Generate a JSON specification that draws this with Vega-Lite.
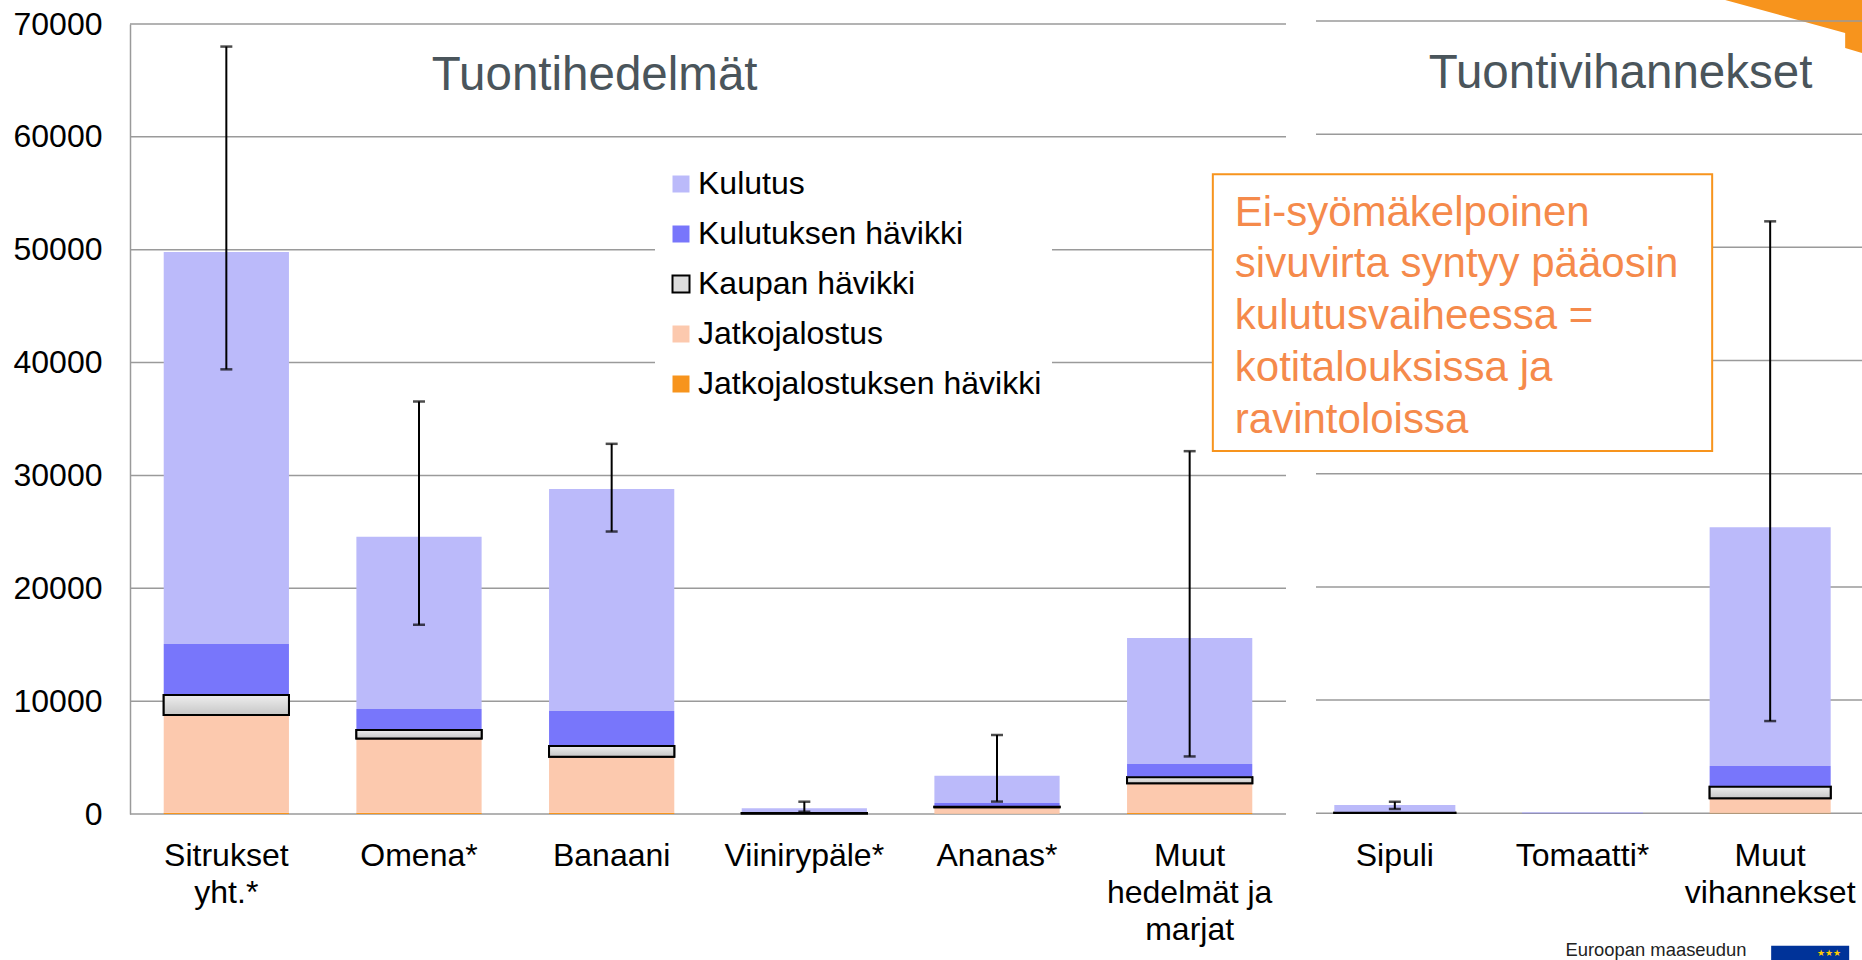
{
  "$schema": "https://vega.github.io/schema/vega-lite/v6.json",
  "padding": {"left": 13, "top": 0, "right": 0, "bottom": 0},
  "background": "white",
  "spacing": 30,
  "bounds": "flush",
  "config": {"view": {"stroke": null}, "font": "Liberation Sans", "axis": {"grid": false}},
  "datasets": {
    "food": [
      {"group":"H","tuote":"Sitrukset yht.*","osa":"Jatkojalostuksen hävikki","arvo":120,"j":0},
      {"group":"H","tuote":"Sitrukset yht.*","osa":"Jatkojalostus","arvo":8650,"j":1},
      {"group":"H","tuote":"Sitrukset yht.*","osa":"Kaupan hävikki","arvo":1770,"j":2},
      {"group":"H","tuote":"Sitrukset yht.*","osa":"Kulutuksen hävikki","arvo":4520,"j":3},
      {"group":"H","tuote":"Sitrukset yht.*","osa":"Kulutus","arvo":34740,"j":4},
      {"group":"H","tuote":"Omena*","osa":"Jatkojalostuksen hävikki","arvo":120,"j":0},
      {"group":"H","tuote":"Omena*","osa":"Jatkojalostus","arvo":6580,"j":1},
      {"group":"H","tuote":"Omena*","osa":"Kaupan hävikki","arvo":740,"j":2},
      {"group":"H","tuote":"Omena*","osa":"Kulutuksen hävikki","arvo":1860,"j":3},
      {"group":"H","tuote":"Omena*","osa":"Kulutus","arvo":15260,"j":4},
      {"group":"H","tuote":"Banaani","osa":"Jatkojalostuksen hävikki","arvo":100,"j":0},
      {"group":"H","tuote":"Banaani","osa":"Jatkojalostus","arvo":4980,"j":1},
      {"group":"H","tuote":"Banaani","osa":"Kaupan hävikki","arvo":940,"j":2},
      {"group":"H","tuote":"Banaani","osa":"Kulutuksen hävikki","arvo":3100,"j":3},
      {"group":"H","tuote":"Banaani","osa":"Kulutus","arvo":19680,"j":4},
      {"group":"H","tuote":"Viinirypäle*","osa":"Jatkojalostus","arvo":40,"j":1},
      {"group":"H","tuote":"Viinirypäle*","osa":"Kaupan hävikki","arvo":50,"j":2},
      {"group":"H","tuote":"Viinirypäle*","osa":"Kulutuksen hävikki","arvo":60,"j":3},
      {"group":"H","tuote":"Viinirypäle*","osa":"Kulutus","arvo":360,"j":4},
      {"group":"H","tuote":"Ananas*","osa":"Jatkojalostuksen hävikki","arvo":20,"j":0},
      {"group":"H","tuote":"Ananas*","osa":"Jatkojalostus","arvo":570,"j":1},
      {"group":"H","tuote":"Ananas*","osa":"Kaupan hävikki","arvo":60,"j":2},
      {"group":"H","tuote":"Ananas*","osa":"Kulutuksen hävikki","arvo":320,"j":3},
      {"group":"H","tuote":"Ananas*","osa":"Kulutus","arvo":2420,"j":4},
      {"group":"H","tuote":"Muut hedelmät ja marjat","osa":"Jatkojalostuksen hävikki","arvo":80,"j":0},
      {"group":"H","tuote":"Muut hedelmät ja marjat","osa":"Jatkojalostus","arvo":2640,"j":1},
      {"group":"H","tuote":"Muut hedelmät ja marjat","osa":"Kaupan hävikki","arvo":530,"j":2},
      {"group":"H","tuote":"Muut hedelmät ja marjat","osa":"Kulutuksen hävikki","arvo":1180,"j":3},
      {"group":"H","tuote":"Muut hedelmät ja marjat","osa":"Kulutus","arvo":11160,"j":4},
      {"group":"V","tuote":"Sipuli","osa":"Jatkojalostus","arvo":20,"j":1},
      {"group":"V","tuote":"Sipuli","osa":"Kaupan hävikki","arvo":30,"j":2},
      {"group":"V","tuote":"Sipuli","osa":"Kulutuksen hävikki","arvo":40,"j":3},
      {"group":"V","tuote":"Sipuli","osa":"Kulutus","arvo":640,"j":4},
      {"group":"V","tuote":"Tomaatti*","osa":"Jatkojalostus","arvo":10,"j":1},
      {"group":"V","tuote":"Tomaatti*","osa":"Kulutuksen hävikki","arvo":10,"j":3},
      {"group":"V","tuote":"Tomaatti*","osa":"Kulutus","arvo":70,"j":4},
      {"group":"V","tuote":"Muut vihannekset","osa":"Jatkojalostuksen hävikki","arvo":50,"j":0},
      {"group":"V","tuote":"Muut vihannekset","osa":"Jatkojalostus","arvo":1275,"j":1},
      {"group":"V","tuote":"Muut vihannekset","osa":"Kaupan hävikki","arvo":1025,"j":2},
      {"group":"V","tuote":"Muut vihannekset","osa":"Kulutuksen hävikki","arvo":1830,"j":3},
      {"group":"V","tuote":"Muut vihannekset","osa":"Kulutus","arvo":21090,"j":4}
    ],
    "err": [
      {"group":"H","tuote":"Sitrukset yht.*","ala":39400,"yla":68000},
      {"group":"H","tuote":"Omena*","ala":16770,"yla":36550},
      {"group":"H","tuote":"Banaani","ala":25030,"yla":32800},
      {"group":"H","tuote":"Viinirypäle*","ala":200,"yla":1090},
      {"group":"H","tuote":"Ananas*","ala":1100,"yla":7000},
      {"group":"H","tuote":"Muut hedelmät ja marjat","ala":5100,"yla":32150},
      {"group":"V","tuote":"Sipuli","ala":380,"yla":1020},
      {"group":"V","tuote":"Muut vihannekset","ala":8150,"yla":52300}
    ],
    "grid": [{"v":0},{"v":10000},{"v":20000},{"v":30000},{"v":40000},{"v":50000},{"v":60000},{"v":70000}]
  },
  "hconcat": [
    {
      "width": 1156, "height": 790,
      "encoding": {"x":{"field":"tuote","type":"nominal","scale":{"domain":["Sitrukset yht.*","Omena*","Banaani","Viinirypäle*","Ananas*","Muut hedelmät ja marjat"],"paddingInner":0.35,"paddingOuter":0.175},"axis":{"title":null,"labelAngle":0,"labelFontSize":32,"labelColor":"#000","ticks":false,"domain":false,"labelPadding":26,"labelLimit":0,"labelExpr":"datum.label==='Sitrukset yht.*'?['Sitrukset','yht.*']:datum.label==='Muut hedelmät ja marjat'?['Muut','hedelmät ja','marjat']:datum.label","labelLineHeight":37,"labelBaseline":"top"}}},
      "layer": [
        {"data":{"name":"grid"},"mark":{"type":"rule","color":"#9a9a9a","strokeWidth":1.5},"encoding":{"x":{"value":0},"x2":{"value":1156},"y":{"field":"v","type":"quantitative","scale":{"domain":[0,70000]},"axis":{"title":null,"values":[0,10000,20000,30000,40000,50000,60000,70000],"format":"d","labelFontSize":32,"labelColor":"#000","labelPadding":28,"ticks":false,"domain":true,"domainColor":"#9a9a9a","domainWidth":1.5,"grid":false}}}},
        {
          "data":{"name":"food"},
          "transform":[{"filter":"datum.group==='H'"},{"stack":"arvo","groupby":["tuote"],"sort":[{"field":"j","order":"ascending"}],"as":["a0","a1"]}],
          "mark":{"type":"bar","strokeWidth":2},
          "encoding":{
            "y":{"field":"a1","type":"quantitative","scale":{"domain":[0,70000]}},
            "y2":{"field":"a0"},
            "fill":{"field":"osa","type":"nominal","scale":{"domain":["Kulutus","Kulutuksen hävikki","Kaupan hävikki","Jatkojalostus","Jatkojalostuksen hävikki"],"range":["#bbbafa","#7876fb","#dcdcdc","#fcc9ae","#f7941d"]},
              "legend":{"title":null,"orient":"none","legendX":525,"legendY":134,"fillColor":"white","padding":10,"labelFontSize":32,"labelColor":"#000","symbolType":"square","symbolSize":289,"symbolStrokeWidth":2,"rowPadding":18,"labelOffset":1,"labelLimit":0}},
            "stroke":{"field":"osa","type":"nominal","scale":{"domain":["Kulutus","Kulutuksen hävikki","Kaupan hävikki","Jatkojalostus","Jatkojalostuksen hävikki"],"range":["transparent","transparent","#000","transparent","transparent"]},
              "legend":{"title":null,"orient":"none","legendX":525,"legendY":134,"fillColor":"white","padding":10,"labelFontSize":32,"labelColor":"#000","symbolType":"square","symbolSize":289,"symbolStrokeWidth":2,"rowPadding":18,"labelOffset":1,"labelLimit":0}}
          }
        },
        {
          "data":{"name":"food"},
          "transform":[{"filter":"datum.group==='H'"},{"stack":"arvo","groupby":["tuote"],"sort":[{"field":"j","order":"ascending"}],"as":["a0","a1"]},{"filter":"datum.osa==='Kaupan hävikki'"}],
          "mark":{"type":"bar","stroke":"#000","strokeWidth":2,"fill":{"gradient":"linear","x1":0,"y1":0,"x2":0,"y2":1,"stops":[{"offset":0,"color":"#eeeeee"},{"offset":1,"color":"#c6c6c6"}]}},
          "encoding":{"y":{"field":"a1","type":"quantitative"},"y2":{"field":"a0"}}
        },
        {
          "data":{"name":"err"},
          "transform":[{"filter":"datum.group==='H'"}],
          "mark":{"type":"rule","color":"#000","strokeWidth":2},
          "encoding":{"y":{"field":"ala","type":"quantitative"},"y2":{"field":"yla"}}
        },
        {
          "data":{"name":"err"},
          "transform":[{"filter":"datum.group==='H'"}],
          "mark":{"type":"tick","color":"#000","thickness":2.5,"size":12,"orient":"horizontal"},
          "encoding":{"y":{"field":"ala","type":"quantitative"}}
        },
        {
          "data":{"name":"err"},
          "transform":[{"filter":"datum.group==='H'"}],
          "mark":{"type":"tick","color":"#000","thickness":2.5,"size":12,"orient":"horizontal"},
          "encoding":{"y":{"field":"yla","type":"quantitative"}}
        },
        {
          "data":{"values":[{"t":"Tuontihedelmät","tuote":"Banaani","v":65350}]},
          "mark":{"type":"text","fontSize":47.5,"color":"#4a555b","dx":-17,"align":"center","baseline":"middle"},
          "encoding":{"y":{"field":"v","type":"quantitative"},"text":{"field":"t"}}
        }
      ]
    },
    {
      "width": 546, "height": 790,
      "encoding": {"x":{"field":"tuote","type":"nominal","scale":{"domain":["Sipuli","Tomaatti*","Muut vihannekset"],"range":[-15,548],"paddingInner":0.355,"paddingOuter":0.1775},"axis":{"title":null,"labelAngle":0,"labelFontSize":32,"labelColor":"#000","ticks":false,"domain":false,"labelPadding":26,"labelLimit":0,"labelExpr":"datum.label==='Muut vihannekset'?['Muut','vihannekset']:datum.label","labelLineHeight":37,"labelBaseline":"top"}}},
      "layer": [
        {
          "data":{"values":[{"tuote":"Muut vihannekset","v":70000}]},
          "mark":{"type":"point","filled":true,"fill":"#f7941d","opacity":1,"size":10000,"shape":"M-0.9 -0.42 L1.5 0.24 L1.5 0.54 L1.84 0.64 L1.84 -0.42 Z"},
          "encoding":{"y":{"field":"v","type":"quantitative","scale":{"domain":[0,70000],"range":[789.3,-3]},"axis":null}}
        },
        {"data":{"name":"grid"},"mark":{"type":"rule","color":"#9a9a9a","strokeWidth":1.5},"encoding":{"x":{"value":0},"x2":{"value":546},"y":{"field":"v","type":"quantitative"}}},
        {
          "data":{"name":"food"},
          "transform":[{"filter":"datum.group==='V'"},{"stack":"arvo","groupby":["tuote"],"sort":[{"field":"j","order":"ascending"}],"as":["a0","a1"]}],
          "mark":{"type":"bar","strokeWidth":2},
          "encoding":{
            "y":{"field":"a1","type":"quantitative"},
            "y2":{"field":"a0"},
            "fill":{"field":"osa","type":"nominal","legend":null,"scale":{"domain":["Kulutus","Kulutuksen hävikki","Kaupan hävikki","Jatkojalostus","Jatkojalostuksen hävikki"],"range":["#bbbafa","#7876fb","#dcdcdc","#fcc9ae","#f7941d"]}},
            "stroke":{"field":"osa","type":"nominal","legend":null,"scale":{"domain":["Kulutus","Kulutuksen hävikki","Kaupan hävikki","Jatkojalostus","Jatkojalostuksen hävikki"],"range":["transparent","transparent","#000","transparent","transparent"]}}
          }
        },
        {
          "data":{"name":"food"},
          "transform":[{"filter":"datum.group==='V'"},{"stack":"arvo","groupby":["tuote"],"sort":[{"field":"j","order":"ascending"}],"as":["a0","a1"]},{"filter":"datum.osa==='Kaupan hävikki'"}],
          "mark":{"type":"bar","stroke":"#000","strokeWidth":2,"fill":{"gradient":"linear","x1":0,"y1":0,"x2":0,"y2":1,"stops":[{"offset":0,"color":"#eeeeee"},{"offset":1,"color":"#c6c6c6"}]}},
          "encoding":{"y":{"field":"a1","type":"quantitative"},"y2":{"field":"a0"}}
        },
        {
          "data":{"name":"err"},
          "transform":[{"filter":"datum.group==='V'"}],
          "mark":{"type":"rule","color":"#000","strokeWidth":2},
          "encoding":{"y":{"field":"ala","type":"quantitative"},"y2":{"field":"yla"}}
        },
        {
          "data":{"name":"err"},
          "transform":[{"filter":"datum.group==='V'"}],
          "mark":{"type":"tick","color":"#000","thickness":2.5,"size":12,"orient":"horizontal"},
          "encoding":{"y":{"field":"ala","type":"quantitative"}}
        },
        {
          "data":{"name":"err"},
          "transform":[{"filter":"datum.group==='V'"}],
          "mark":{"type":"tick","color":"#000","thickness":2.5,"size":12,"orient":"horizontal"},
          "encoding":{"y":{"field":"yla","type":"quantitative"}}
        },
        {
          "data":{"values":[{"t":"Tuontivihannekset","tuote":"Tomaatti*","v":65350}]},
          "mark":{"type":"text","fontSize":47.5,"color":"#4a555b","dx":38,"align":"center","baseline":"middle"},
          "encoding":{"y":{"field":"v","type":"quantitative"},"text":{"field":"t"}}
        },
        {
          "data":{"values":[{"tuote":"Sipuli","b":"Muut vihannekset","y1":56470,"y2":32000}]},
          "mark":{"type":"rect","fill":"white","stroke":"#f7941d","strokeWidth":2,"xOffset":-182,"x2Offset":-58},
          "encoding":{"x2":{"field":"b"},"y":{"field":"y1","type":"quantitative"},"y2":{"field":"y2"}}
        },
        {
          "data":{"values":[{"t":"Ei-syömäkelpoinen\nsivuvirta syntyy pääosin\nkulutusvaiheessa =\nkotitalouksissa ja\nravintoloissa","tuote":"Sipuli","v":51910}]},
          "mark":{"type":"text","fontSize":42,"color":"#f58a4b","lineBreak":"\n","lineHeight":51.7,"align":"left","baseline":"alphabetic","dx":-160},
          "encoding":{"y":{"field":"v","type":"quantitative"},"text":{"field":"t"}}
        },
        {
          "data":{"values":[{"t":"Euroopan maaseudun","tuote":"Tomaatti*","v":-12100}]},
          "mark":{"type":"text","fontSize":18.4,"color":"#222","align":"left","baseline":"middle","dx":-17},
          "encoding":{"y":{"field":"v","type":"quantitative"},"text":{"field":"t"}}
        },
        {
          "data":{"values":[{"tuote":"Muut vihannekset","v":-11700,"v2":-13000}]},
          "mark":{"type":"bar","fill":"#003399","xOffset":40,"width":78},
          "encoding":{"y":{"field":"v","type":"quantitative"},"y2":{"field":"v2"}}
        },
        {
          "data":{"values":[{"t":"★★★","tuote":"Muut vihannekset","v":-12300}]},
          "mark":{"type":"text","fontSize":9,"color":"#ffcc00","dx":59,"align":"center","baseline":"middle"},
          "encoding":{"y":{"field":"v","type":"quantitative"},"text":{"field":"t"}}
        }
      ]
    }
  ]
}
